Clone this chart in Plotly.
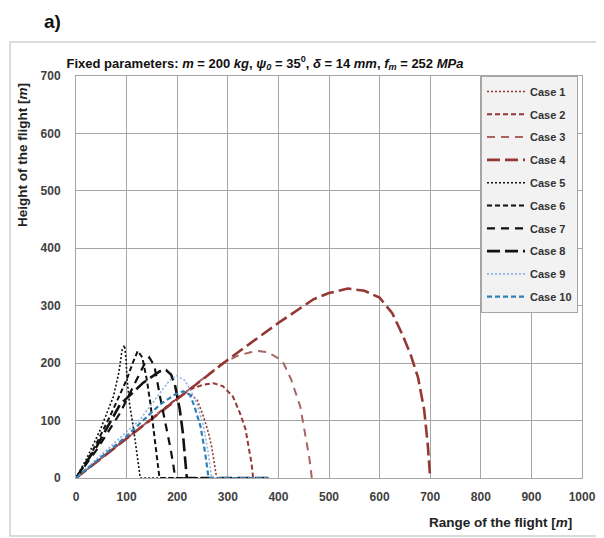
import plotly.graph_objects as go

# ---- data (range x [m], height y [m]) ----
case_names = ["Case 1", "Case 2", "Case 3", "Case 4", "Case 5",
              "Case 6", "Case 7", "Case 8", "Case 9", "Case 10"]

c1_x = [0, 50, 100, 150, 190, 210, 225, 240, 252, 262, 268, 274, 278, 380]
c1_y = [0, 34, 69, 104, 132, 145, 147, 135, 107, 78, 55, 25, 0, 0]

c2_x = [0, 50, 100, 150, 200, 225, 250, 272, 290, 310, 324, 335, 341, 347, 350, 380]
c2_y = [0, 34, 69, 104, 139, 154, 162, 165, 160, 142, 113, 85, 55, 25, 0, 0]

c3_x = [0, 100, 200, 290, 320, 345, 360, 380, 400, 410, 425, 443, 456, 462, 466]
c3_y = [0, 69, 139, 200, 213, 219, 221, 219, 208, 200, 172, 125, 61, 30, 0]

c4_x = [0, 100, 200, 300, 400, 469, 500, 537, 570, 600, 625, 645, 662, 676, 688, 695, 700]
c4_y = [0, 69, 138, 206, 270, 311, 322, 330, 326, 314, 287, 250, 213, 175, 119, 60, 0]

c5_x = [0, 20, 48, 74, 85, 91, 96, 99, 101, 106, 114, 121, 127, 380]
c5_y = [0, 32, 84, 142, 185, 223, 231, 205, 171, 128, 84, 40, 0, 0]

c6_x = [0, 30, 67, 100, 112, 122, 131, 140, 147, 153, 159, 165, 380]
c6_y = [0, 42, 107, 171, 200, 221, 210, 171, 130, 84, 42, 0, 0]

c7_x = [0, 40, 87, 120, 135, 145, 155, 166, 176, 186, 192, 196, 380]
c7_y = [0, 48, 113, 171, 198, 210, 195, 142, 100, 55, 25, 0, 0]

c8_x = [0, 41, 87, 133, 166, 178, 188, 196, 205, 211, 216, 219, 380]
c8_y = [0, 55, 128, 166, 186, 188, 180, 160, 120, 80, 30, 0, 0]

c9_x = [0, 60, 127, 166, 185, 199, 215, 228, 239, 252, 262, 268, 380]
c9_y = [0, 48, 102, 148, 170, 178, 170, 150, 130, 90, 40, 0, 0]

c10_x = [0, 50, 100, 166, 195, 212, 225, 234, 246, 255, 262, 380]
c10_y = [0, 36, 73, 128, 145, 151, 145, 125, 90, 45, 0, 0]

xs = [c1_x, c2_x, c3_x, c4_x, c5_x, c6_x, c7_x, c8_x, c9_x, c10_x]
ys = [c1_y, c2_y, c3_y, c4_y, c5_y, c6_y, c7_y, c8_y, c9_y, c10_y]

x_ticks = [0, 100, 200, 300, 400, 500, 600, 700, 800, 900, 1000]
y_ticks = [0, 100, 200, 300, 400, 500, 600, 700]

# ---- styles ----
maroon = "#953735"
colors = [maroon, maroon, "#a86462", maroon, "#111111", "#111111", "#111111", "#111111",
          "#8db3e2", "#2f7fb8"]
dashes = ["2px,2px", "5px,3px", "8px,6px", "13px,5px",
          "2px,2px", "5px,3px", "8px,6px", "13px,5px",
          "2px,2px", "5px,3px"]
widths = [1.6, 2.0, 2.0, 2.6, 1.6, 2.0, 2.2, 2.6, 1.6, 2.2]

fig = go.Figure()
for i, name in enumerate(case_names):
    fig.add_trace(go.Scatter(
        x=xs[i], y=ys[i], mode="lines", name=name, legendgroup=name,
        line=dict(color=colors[i], dash=dashes[i], width=widths[i]),
    ))

FONT = "Arial, Liberation Sans, sans-serif"
axis_common = dict(
    showgrid=True, gridcolor="#a6a6a6", gridwidth=1,
    showline=True, linecolor="#a6a6a6", linewidth=1, mirror=True,
    zeroline=False, ticks="", automargin=False,
    tickfont=dict(family=FONT, size=12, color="#404040", weight="bold"),
)

# page offset (browser body margin)
OFF = 8
W, H = 604 - OFF, 538 - OFF
L, R, T, B = 76 - OFF, 22, 76 - OFF, 60
PW, PH = W - L - R, H - T - B


def px_x(p):
    return (p - OFF - L) / PW


def px_y(p):
    return (H - B - (p - OFF)) / PH


fig.update_layout(
    width=W, height=H,
    margin=dict(l=L, r=R, t=T, b=B, autoexpand=False),
    paper_bgcolor="white", plot_bgcolor="white",
    title=dict(
        text="<b>Fixed parameters: <i>m</i> = 200 <i>kg</i>, <i>ψ<sub>0</sub></i> = 35<sup>0</sup>, "
             "<i>δ</i> = 14 <i>mm</i>, <i>f<sub>m</sub></i> = 252 <i>MPa</i></b>",
        font=dict(family=FONT, size=13, color="#111111"),
        xref="paper", x=px_x(265), xanchor="center",
        yref="container", y=1 - (63 - OFF) / H, yanchor="middle",
        automargin=False,
    ),
    xaxis=dict(range=[0, 1000], tickvals=x_ticks, ticklabelstandoff=8, **axis_common),
    yaxis=dict(range=[0, 700], tickvals=y_ticks, ticklabelstandoff=12, **axis_common),
    showlegend=True,
    legend=dict(
        x=px_x(481), y=px_y(76), xanchor="left", yanchor="top",
        bgcolor="#f2f2f2", bordercolor="#a6a6a6", borderwidth=1,
        font=dict(family=FONT, size=11, color="#333333", weight="bold"),
        tracegroupgap=3.8, itemwidth=38,
    ),
    shapes=[
        dict(type="rect", xref="paper", yref="paper",
             x0=px_x(10), x1=px_x(598), y0=px_y(536), y1=px_y(42),
             line=dict(color="#d0d0d0", width=1.5), layer="below"),
    ],
    annotations=[
        dict(text="<b>a)</b>", xref="paper", yref="paper",
             x=px_x(52), y=px_y(21), xanchor="center", yanchor="middle",
             showarrow=False, font=dict(family=FONT, size=19, color="#111111")),
        dict(text="<b>Range of the flight [<i>m</i>]</b>", xref="paper", yref="paper",
             x=px_x(574), y=px_y(522), xanchor="right", yanchor="middle",
             showarrow=False, font=dict(family=FONT, size=13.5, color="#222222")),
        dict(text="<b>Height of the flight [<i>m</i>]</b>", xref="paper", yref="paper",
             x=px_x(22), y=px_y(155), xanchor="center", yanchor="middle",
             textangle=-90, showarrow=False, font=dict(family=FONT, size=13.5, color="#222222")),
    ],
)

fig.write_html("out.html")
